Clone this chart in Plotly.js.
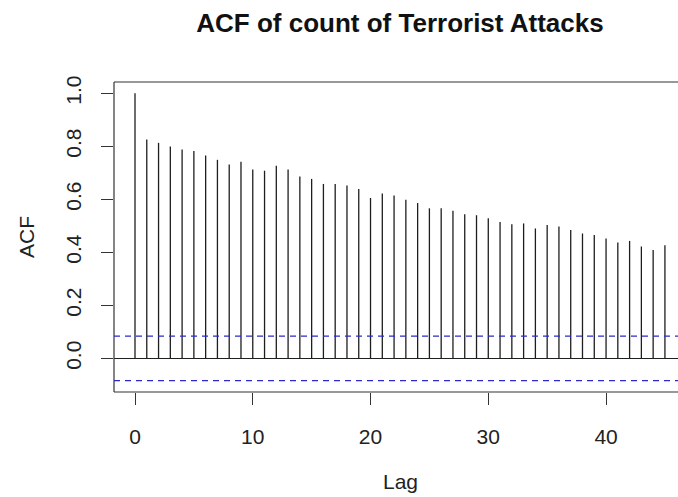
<!DOCTYPE html>
<html>
<head>
<meta charset="utf-8">
<script src="https://cdn.plot.ly/plotly-3.0.1.min.js"></script>
<style>
  html, body { margin: 0; padding: 0; background: #fff; }
  #chart { width: 678px; height: 497px; }
</style>
</head>
<body>
<div id="chart"></div>
<script>
// Autocorrelation of the monthly count of terrorist attacks, lags 0..45
const lags = [0,1,2,3,4,5,6,7,8,9,10,11,12,13,14,15,16,17,18,19,20,21,22,23,24,25,26,27,28,29,30,31,32,33,34,35,36,37,38,39,40,41,42,43,44,45];
const acfValues = [1.000,0.826,0.813,0.799,0.788,0.782,0.765,0.749,0.731,0.742,0.712,0.708,0.727,0.712,0.686,0.677,0.658,0.658,0.652,0.639,0.605,0.622,0.614,0.598,0.586,0.566,0.566,0.557,0.544,0.540,0.529,0.514,0.506,0.509,0.490,0.503,0.497,0.484,0.471,0.465,0.452,0.437,0.443,0.422,0.409,0.427];
// 95% significance bound (1.96 / sqrt(n))
const ciBound = 0.084;
const xTickVals = [0, 10, 20, 30, 40];
const yTickVals = [0.0, 0.2, 0.4, 0.6, 0.8, 1.0];
const yTickText = ['0.0', '0.2', '0.4', '0.6', '0.8', '1.0'];

// Vertical spikes from (lag, 0) up to (lag, acf)
const spikeX = [], spikeY = [];
lags.forEach((lag, i) => {
  spikeX.push(lag, lag, null);
  spikeY.push(0, acfValues[i], null);
});

const font = 'Liberation Sans, Arial, Helvetica, sans-serif';
const ink = '#222';
const labelSize = 21;

const W = 678, H = 497;
const M = { l: 114, r: 0, t: 82, b: 105 };
const plotW = W - M.l - M.r, plotH = H - M.t - M.b;

const traces = [{
  type: 'scatter',
  mode: 'lines',
  x: spikeX,
  y: spikeY,
  line: { color: '#1e1e1e', width: 1.3 },
  hoverinfo: 'skip',
  showlegend: false
}];

const layout = {
  width: W,
  height: H,
  margin: { l: M.l, r: M.r, t: M.t, b: M.b, pad: 0 },
  paper_bgcolor: '#ffffff',
  plot_bgcolor: '#ffffff',
  font: { family: font, color: ink, size: labelSize },
  showlegend: false,
  title: {
    text: '<b>ACF of count of Terrorist Attacks</b>',
    font: { family: font, size: 26, color: '#111' },
    x: 400 / W, xref: 'container', xanchor: 'center',
    y: 1 - 23 / H, yref: 'container', yanchor: 'middle'
  },
  xaxis: {
    range: [-1.783, 46.11],
    tickvals: xTickVals,
    ticks: 'outside', ticklen: 12, tickwidth: 1, tickcolor: '#333',
    ticklabelstandoff: 14,
    showline: false, showgrid: false, zeroline: false,
    tickfont: { family: font, size: labelSize, color: ink }
  },
  yaxis: {
    range: [-0.127, 1.0426],
    tickvals: yTickVals,
    ticktext: yTickText,
    tickangle: -90,
    ticks: 'outside', ticklen: 12, tickwidth: 1, tickcolor: '#333',
    ticklabelstandoff: 12,
    showline: false, showgrid: false,
    zeroline: true, zerolinecolor: '#1e1e1e', zerolinewidth: 1.1,
    tickfont: { family: font, size: labelSize, color: ink }
  },
  annotations: [
    { text: 'Lag', xref: 'paper', yref: 'paper',
      x: (400 - M.l) / plotW, y: -(481 - (H - M.b)) / plotH,
      xanchor: 'center', yanchor: 'middle', showarrow: false,
      font: { family: font, size: labelSize, color: ink } },
    { text: 'ACF', xref: 'paper', yref: 'paper', textangle: -90,
      x: (26 - M.l) / plotW, y: 0.5,
      xanchor: 'center', yanchor: 'middle', showarrow: false,
      font: { family: font, size: labelSize, color: ink } }
  ],
  shapes: [
    // plot box: left, top, bottom (the right side lies past the page edge)
    { type: 'line', xref: 'paper', yref: 'paper', x0: 0, x1: 0, y0: 0, y1: 1, line: { color: '#333', width: 1.2 } },
    { type: 'line', xref: 'paper', yref: 'paper', x0: 0, x1: 1, y0: 1, y1: 1, line: { color: '#333', width: 1.2 } },
    { type: 'line', xref: 'paper', yref: 'paper', x0: 0, x1: 1, y0: 0, y1: 0, line: { color: '#333', width: 1.2 } },
    // significance bounds
    { type: 'line', xref: 'paper', yref: 'y', x0: 0, x1: 1, y0: ciBound, y1: ciBound, line: { color: '#2a2acc', width: 1.2, dash: '6px,5px' } },
    { type: 'line', xref: 'paper', yref: 'y', x0: 0, x1: 1, y0: -ciBound, y1: -ciBound, line: { color: '#2a2acc', width: 1.2, dash: '6px,5px' } }
  ]
};

Plotly.newPlot('chart', traces, layout, { staticPlot: true, displayModeBar: false });
</script>
</body>
</html>
